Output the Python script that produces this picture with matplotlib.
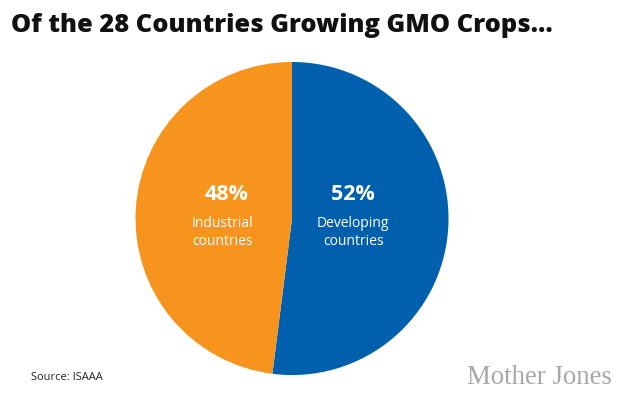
import matplotlib
matplotlib.use('Agg')
import matplotlib.pyplot as plt

# Data
labels = ['Developing\ncountries', 'Industrial\ncountries']
shares = [52, 48]
colors = ['#0060ae', '#f7941d']

fig = plt.figure(figsize=(6.3, 4.0), dpi=100)
plt.rcParams['font.family'] = ['Open Sans', 'DejaVu Sans']

# pie is about 314 px wide, centred at (292, 218)
ax = fig.add_axes([135 / 630, (400 - 375.5) / 400, 314 / 630, 314 / 400])
ax.pie(shares, colors=colors, startangle=90, counterclock=False, radius=0.997,
       wedgeprops={'linewidth': 0})
ax.set_xlim(-1, 1)
ax.set_ylim(-1, 1)
ax.set_aspect('equal')

# labels
pct_pos = [(0.39, 0.155), (-0.415, 0.155)]
label_pos = [(0.39, -0.09), (-0.44, -0.09)]
for (x, y), share in zip(pct_pos, shares):
    ax.text(x, y, f'{share}%', color='white', fontsize=15.5, fontweight='bold', ha='center', va='center')
for (x, y), label in zip(label_pos, labels):
    ax.text(x, y, label, color='white', fontsize=10, ha='center', va='center', linespacing=1.3)

fig.text(11 / 630, 1 - 26 / 400, 'Of the 28 Countries Growing GMO Crops...', fontsize=18.3,
         fontweight='heavy', color='#111111', ha='left', va='center')
fig.text(31 / 630, 1 - 377 / 400, 'Source: ISAAA', fontsize=8, color='#222222', ha='left', va='center')
fig.text(612 / 630, 1 - 378 / 400, 'Mother Jones', fontsize=19.3, family=['Liberation Serif', 'DejaVu Serif'],
         color='#a8a8a8', ha='right', va='center')

fig.savefig('out.png', dpi=100)
